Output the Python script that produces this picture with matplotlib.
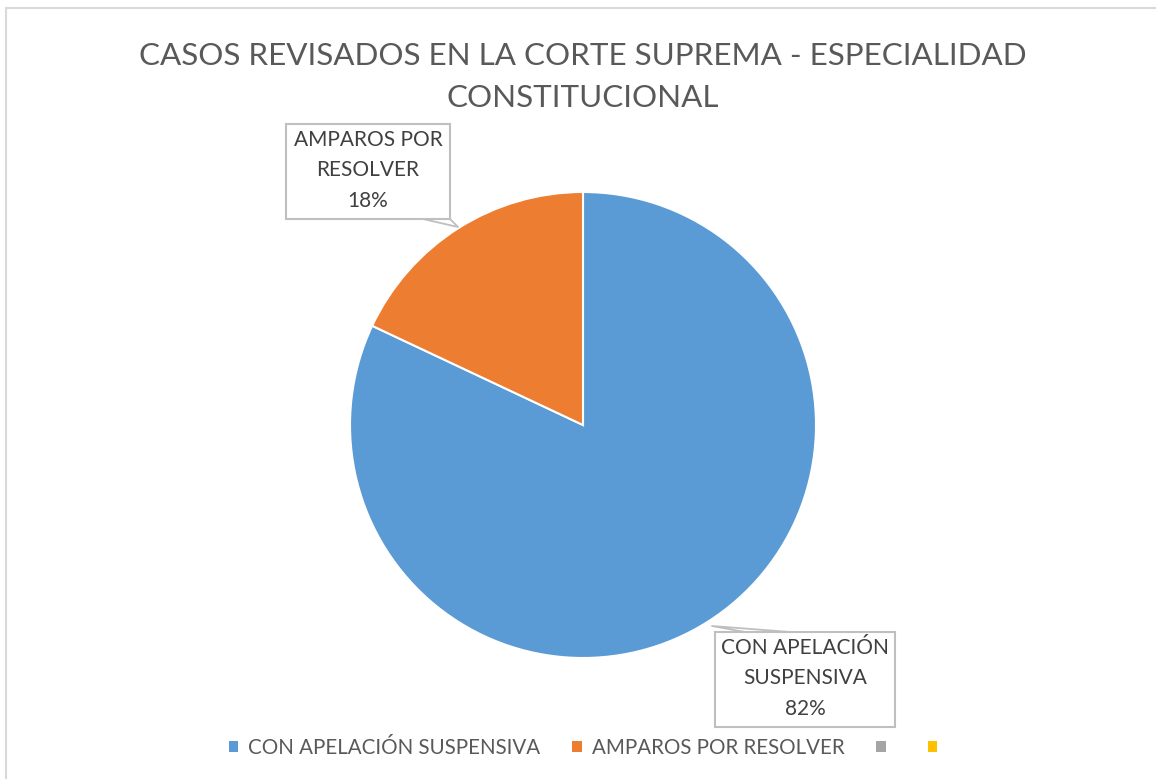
import matplotlib
matplotlib.use("Agg")
from matplotlib import pyplot as plt
from matplotlib import patches
from matplotlib.lines import Line2D

W, H = 1156, 779

title = "CASOS REVISADOS EN LA CORTE SUPREMA - ESPECIALIDAD\nCONSTITUCIONAL"
categories = ["CON APELACIÓN SUSPENSIVA", "AMPAROS POR RESOLVER", "", ""]
wrapped = ["CON APELACIÓN\nSUSPENSIVA", "AMPAROS POR\nRESOLVER"]
values = [82, 18]
colors = ["#5B9BD5", "#ED7D31", "#A5A5A5", "#FFC000"]

plt.rcParams['font.family'] = ['Lato', 'DejaVu Sans']


def px(x, y):
    # pixel coords (top-left origin) -> figure fraction
    return x / W, 1 - y / H


fig = plt.figure(figsize=(W / 100, H / 100), dpi=100)
fig.patch.set_facecolor("white")

# chart border
fig.add_artist(patches.Rectangle(px(6, 800), (W + 20) / W, 792 / H,
                                 transform=fig.transFigure, fill=False,
                                 edgecolor="#d9d9d9", linewidth=1.5))

cx, cy, r = 583, 425, 233
ax = fig.add_axes([(cx - r) / W, (H - cy - r) / H, 2 * r / W, 2 * r / H])
ax.pie(values, colors=colors[:2], startangle=90, counterclock=False,
       wedgeprops=dict(edgecolor="white", linewidth=1.5))
ax.set_xlim(-1, 1)
ax.set_ylim(-1, 1)
ax.set_aspect("auto")
ax.axis("off")

fig.text(*px(583, 77), title, ha="center", va="center", fontsize=22.6,
         color="#595959", linespacing=1.6)

# data labels
total = sum(values)
boxes = [(715, 632, 895, 727), (286, 124, 450, 219)]
tails = [[(745, 632), (712, 626), (790, 632)], [(423, 219), (458, 227), (450, 219)]]
for i, name in enumerate(wrapped):
    x0, y0, x1, y1 = boxes[i]
    bl = px(x0, y1)
    fig.add_artist(patches.Rectangle(bl, (x1 - x0) / W, (y1 - y0) / H,
                                     transform=fig.transFigure, facecolor="white",
                                     edgecolor="#bfbfbf", linewidth=1.5))
    xs, ys = zip(*[px(*p) for p in tails[i]])
    fig.add_artist(Line2D(xs, ys, transform=fig.transFigure,
                          color="#bfbfbf", linewidth=1.3))
    fig.text(*px((x0 + x1) / 2, (y0 + y1) / 2 - 1),
             f"{name}\n{values[i] / total * 100:.0f}%",
             ha="center", va="center", fontsize=15, color="#404040",
             linespacing=1.65)

handles = [patches.Patch(facecolor=c, edgecolor="none") for c in colors]
fig.legend(handles, categories, loc="center", bbox_to_anchor=px(588, 748),
           ncol=4, frameon=False, fontsize=14.8, labelcolor="#595959",
           handlelength=0.45, handleheight=0.45, handletextpad=0.5,
           columnspacing=1.55)

fig.savefig("out.png", dpi=100, facecolor="white")
